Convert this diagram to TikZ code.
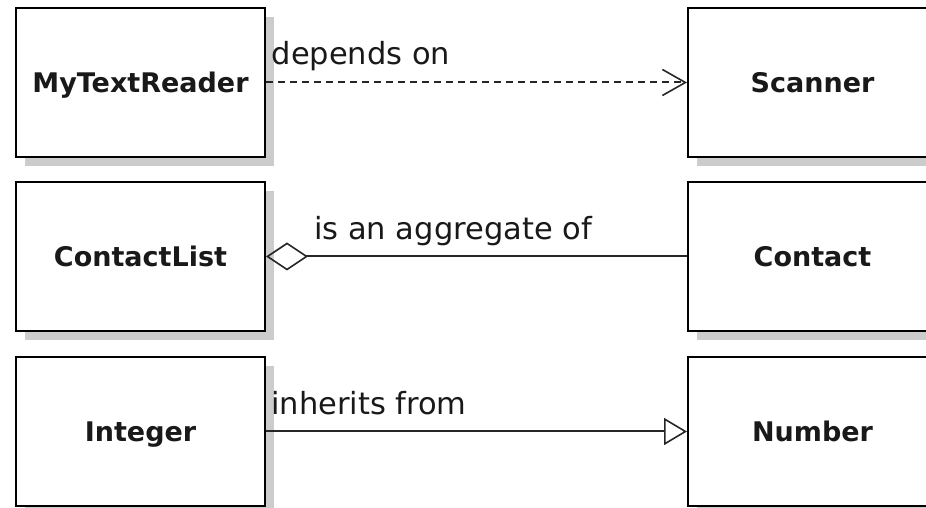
\documentclass[tikz,border=0pt]{standalone}
\usepackage{fontspec}
\setmainfont{DejaVu Sans}
\usetikzlibrary{arrows.meta,shadows}

\begin{document}
\begin{tikzpicture}[x=1pt,y=1pt,
  clase/.style={draw,line width=2pt,fill=white,minimum width=249pt,minimum height=149pt,inner sep=0pt,
    font=\fontsize{27}{30}\selectfont\bfseries,text=black!90,text height=19.7pt,text depth=0pt,
    drop shadow={shadow xshift=9pt,shadow yshift=-9pt,fill=black!20,opacity=1}},
  etiqueta/.style={anchor=base west,inner sep=0pt,font=\fontsize{30.5}{32}\selectfont,text=black!90},
  rel/.style={line width=2pt,black!85}]
\useasboundingbox (0,0) rectangle (926,508);
% Clases
\foreach \nombre/\texto/\x/\y in {reader/MyTextReader/140.5/425.5, scanner/Scanner/812.5/425.5,
    lista/ContactList/140.5/251.5, contacto/Contact/812.5/251.5,
    entero/Integer/140.5/76.5, numero/Number/812.5/76.5}
        \node[clase] (\nombre) at (\x,\y) {\texto};
% Dependencia
\draw[rel,dash pattern=on 7pt off 5pt,-{Straight Barb[length=23pt,width=26pt,line width=1.6pt]}]
 (reader) -- (scanner);
\node[etiqueta] (depende) at ([xshift=5.5pt,yshift=18pt]reader.east) {depends on};
% Agregacion
\draw[rel,{Diamond[open,length=42pt,width=28pt,line width=1.6pt]}-] (lista) -- (contacto);
\node[etiqueta] (agrega) at ([xshift=48pt,yshift=16.5pt]lista.east) {is an aggregate of};
% Herencia
\draw[rel,-{Triangle[open,length=23pt,width=27pt,line width=1.6pt]}] (entero) -- (numero);
\node[etiqueta] (hereda) at ([xshift=5pt,yshift=16.5pt]entero.east) {inherits from};
\end{tikzpicture}
\end{document}
